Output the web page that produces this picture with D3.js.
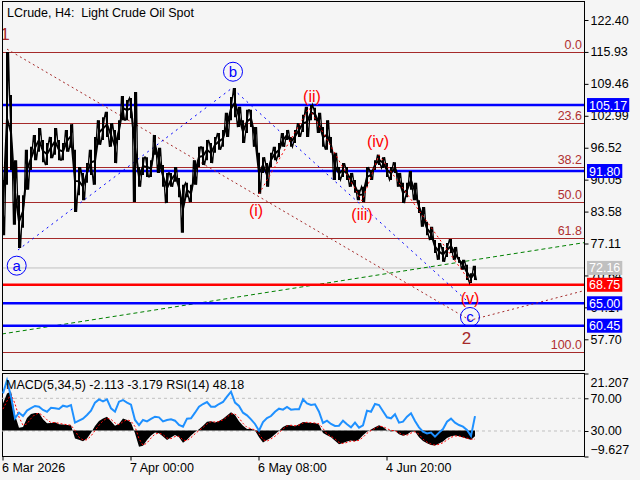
<!DOCTYPE html>
<html><head><meta charset="utf-8">
<script src="https://cdn.jsdelivr.net/npm/d3@7"></script>
<style>
body{margin:0;background:#f5f5f5}
svg{display:block}
text{font-family:"Liberation Sans",Arial,sans-serif;white-space:pre}
</style>
</head><body>
<svg id="c" width="640" height="480"></svg>
<script>
// ---------- DATA ----------
const title = "LCrude, H4:  Light Crude Oil Spot";
const macdLabel = "MACD(5,34,5) -2.113 -3.179 RSI(14) 48.18";
// price samples (every 4 H4 bars)
const highs = [90.0,115.9,107.2,94.0,86.9,86.9,96.1,96.7,99.1,100.5,
98.1,97.5,98.7,100.5,98.1,97.5,100.1,101.3,96.1,92.6,
91.4,93.4,96.1,98.7,102.1,102.7,103.8,101.5,100.1,102.1,
107.0,106.2,106.6,107.8,92.6,94.6,94.6,94.0,99.1,96.5,
93.0,91.4,91.4,92.6,90.4,89.0,89.4,89.0,94.0,96.7,
96.7,98.1,97.5,98.7,99.5,100.1,103.6,106.8,108.6,104.8,
102.1,104.2,104.2,100.7,95.5,94.6,93.4,95.5,96.7,97.5,
99.5,100.1,98.7,100.1,101.5,103.2,104.8,105.2,104.6,103.6,
100.7,102.1,98.7,95.5,92.6,93.4,92.6,91.4,90.0,88.0,
88.6,92.6,92.0,94.0,95.1,94.6,93.4,92.6,93.6,91.4,
89.4,89.4,91.8,89.4,85.9,84.5,81.5,80.5,77.8,77.2,
76.4,77.2,78.0,76.4,74.4,73.8,72.8,71.1,72.6];
const lows = [78.8,89.0,92.0,80.9,76.2,80.3,88.0,92.0,94.0,95.7,
93.6,93.0,94.4,95.1,94.0,94.0,95.7,96.5,83.5,86.9,
85.9,89.4,91.0,89.0,97.1,98.1,98.7,96.7,93.4,98.1,
102.1,102.1,102.5,85.5,88.6,91.0,90.6,90.6,95.1,91.4,
88.6,85.3,88.6,89.6,86.5,79.3,86.5,85.5,89.0,92.6,
93.0,94.0,93.4,95.5,96.1,96.7,98.7,102.1,102.7,100.7,
97.5,99.5,100.7,96.7,87.2,91.4,88.6,92.6,94.0,94.6,
96.7,98.1,96.7,97.5,98.7,99.7,98.7,102.1,102.1,99.5,
96.7,96.1,95.5,90.0,90.0,90.6,90.0,88.6,87.4,85.9,
85.5,88.6,90.0,92.0,93.0,92.4,90.6,90.0,91.4,88.6,
85.3,86.5,88.0,85.9,83.3,80.5,78.8,77.8,75.2,73.8,
73.4,74.4,75.2,73.8,73.2,71.8,69.7,69.1,69.7];
const rsi = [76,92,72,45.5,52.4,48.3,55,58,60.6,59.8,
55.7,53.6,58.5,57.7,57,61,59.8,61.8,40.2,42.6,
45.1,49.6,54.9,64.7,68.7,66.3,68.7,57.7,53.6,65.9,
67.9,64.7,62.2,43.5,37.3,43.5,41.8,44.7,47.5,46.7,
41.8,43.5,44.3,42.6,37.3,35.3,45.1,45.5,52.4,59.8,
63,65.5,59.8,59.8,63,65.5,72,78.1,64.7,60.6,
52.4,49.2,44.3,38.6,30.4,41,45.9,48.3,53.6,57.3,
56.1,59.4,56.1,56.5,56.5,68.7,63.8,61.8,62.6,53.6,
39.8,42.6,38.6,36.1,36.5,42.6,38.2,34.5,40.2,34.1,
36.9,54.9,53.6,63,61.8,54.1,46.7,45.5,50.4,40.2,
41.4,47.5,51.6,42.2,34.5,29.2,27.1,28,23.1,28,
32.4,41.4,45.1,40.2,37.3,35.3,31.2,23.9,48.18];
const macd = [10.1,13.8,14.5,5.8,1.1,1.3,4.7,6.2,6.5,6.5,
4.2,2.7,2.8,3.1,2.4,2.3,2.1,2.0,-2.9,-3.4,
-4.0,-2.9,-0.8,1.7,3.6,4.5,5.1,3.5,1.8,2.5,
4.5,3.9,3.0,-1.0,-6.0,-5.6,-3.5,-1.8,-0.7,-1.0,
-2.2,-3.5,-2.6,-1.6,-2.5,-4.5,-3.4,-1.8,-0.5,0.5,
1.8,3.3,3.5,3.0,3.6,4.4,5.6,6.8,5.8,3.5,
1.8,0.6,0.7,0,-2.5,-4.4,-3.5,-2.7,-1.4,-0.1,
1.3,2.1,2.0,1.6,2.4,3.2,3.0,2.8,2.8,2.3,
-0.9,-1.7,-2.5,-3.8,-5.1,-4.6,-4.1,-3.7,-4.0,-3.3,
-1.7,-0.4,0.4,1.2,2.0,1.3,0.1,-0.3,-0.1,-1.4,
-1.9,-1.5,-0.4,-0.3,-2.5,-3.9,-4.7,-5.4,-5.5,-4.8,
-4.1,-2.8,-2.1,-1.8,-2.1,-2.6,-3.0,-3.4,-2.113];
const signal = [8,11,13.5,10,5,2,2.5,4.5,6,6.5,
5.5,4,3,3,2.7,2.4,2.2,2.0,0,-2.5,
-3.5,-3.4,-2,0,2,3.6,4.6,4.2,2.8,2.2,
3.3,4,3.5,1.5,-3,-5.5,-4.6,-2.8,-1.3,-0.9,
-1.5,-2.8,-3,-2.2,-2.1,-3.5,-3.8,-2.6,-1.2,0,
1.1,2.5,3.3,3.2,3.3,4,5,6.2,6.2,4.7,
2.7,1.2,0.7,0.3,-1.2,-3.4,-3.9,-3.1,-2.1,-0.8,
0.6,1.7,2,1.8,2,2.8,3.1,2.9,2.8,2.5,
0.8,-1.3,-2.1,-3.1,-4.4,-4.8,-4.4,-3.9,-3.9,-3.6,
-2.5,-1,0,0.8,1.6,1.5,0.7,0.1,-0.1,-0.8,
-1.6,-1.7,-0.9,-0.4,-1.4,-3.2,-4.3,-5,-5.4,-5.1,
-4.5,-3.5,-2.5,-2,-2,-2.4,-2.8,-3.2,-3.179];
const priceTicks = [122.40,115.93,109.46,102.99,96.52,90.05,83.58,77.11,70.64,64.17,57.70];
const dateTickBars = [0,128,256,384];
const dateTickLabels = ["6 Mar 2026","7 Apr 00:00","6 May 08:00","4 Jun 20:00"];
const fibLevels = [0.0,23.6,38.2,50.0,61.8,100.0];
const fibTop = 115.93, fibBottom = 55.07;
const blueLevels = [105.17,91.80,65.00,60.45];
const redLevel = 68.75;
const lastPrice = 72.16;
// wave structure (bar index, price)
const wave12Bars = [5,468,582], wave12Prices = [116.5,61.56,67.55];
const waveABCBars = [16,230,466], waveABCPrices = [75.8,108.6,65.3];
const waveIVBars = [257,307,360,377,469], waveIVPrices = [87.15,104.57,85.73,95.05,69.12];
const trendBars = [0,582], trendPrices = [58.78,77.28];
const circleLabels = ["a","b","c"], circleBars = [14.7,231,468], circlePrices = [72.62,111.92,62.22];
const minorLabels = ["(i)","(ii)","(iii)","(iv)","(v)"], minorBars = [254,310,360,376,468], minorPrices = [83.70,106.80,82.89,97.88,65.87];
const majorLabels = ["1","2"], majorBars = [3,464.5], majorPrices = [119.56,57.97];
const rsiTicks = [70,30];
const macdTicks = [21.207,-9.627];

// ---------- LAYOUT ----------
const svg = d3.select("#c");
const L = 2, R = 584, T = 1, B = 370, LT = 373.5, LB = 456.5;
const x = d3.scaleLinear().domain([0,582]).range([L,R]);
const y = d3.scaleLinear().domain([57.70,122.40]).range([339.3,20]);
const yr = d3.scaleLinear().domain([0,100]).range([455.5,373.8]);
const ym = d3.scaleLinear().domain([-9.627,21.207]).range([456.5,373.5]);
const sampleBar = i => 1 + 4*i;
const fnt = "12.5px";

svg.append("rect").attr("width",640).attr("height",480).attr("fill","#f5f5f5");
svg.append("defs").append("clipPath").attr("id","mainclip")
  .append("rect").attr("x",L).attr("y",T).attr("width",R-L).attr("height",B-T);
svg.select("defs").append("clipPath").attr("id","lowclip")
  .append("rect").attr("x",L).attr("y",LT).attr("width",R-L).attr("height",LB-LT);

const main = svg.append("g").attr("clip-path","url(#mainclip)");

// fib lines
fibLevels.forEach(f=>{
  const p = fibTop - f/100*(fibTop-fibBottom);
  main.append("line").attr("x1",L).attr("x2",R).attr("y1",Math.round(y(p))+0.5).attr("y2",Math.round(y(p))+0.5)
    .attr("stroke","#a52a2a").attr("stroke-width",1);
  main.append("text").attr("x",R-2).attr("y",Math.round(y(p))-3).attr("text-anchor","end")
    .attr("fill","#b03030").style("font-size",fnt).text(f.toFixed(1));
});
// last price line
main.append("line").attr("x1",L).attr("x2",R).attr("y1",y(lastPrice)).attr("y2",y(lastPrice))
  .attr("stroke","#c0c0c0").attr("stroke-width",1);
// trend line green
const lineGen = d3.line().x(d=>x(d[0])).y(d=>y(d[1]));
main.append("path").attr("d",lineGen(trendBars.map((b,i)=>[b,trendPrices[i]])))
  .attr("fill","none").attr("stroke","#008000").attr("stroke-width",1).attr("stroke-dasharray","4,3");
// blue levels
blueLevels.forEach(v=>{
  main.append("line").attr("x1",L).attr("x2",R).attr("y1",y(v)).attr("y2",y(v))
    .attr("stroke","#0000ff").attr("stroke-width",2.5);
});
main.append("line").attr("x1",L).attr("x2",R).attr("y1",y(redLevel)).attr("y2",y(redLevel))
  .attr("stroke","#ff0000").attr("stroke-width",2.5);

// wave lines
main.append("path").attr("d",lineGen(wave12Bars.map((b,i)=>[b,wave12Prices[i]])))
  .attr("fill","none").attr("stroke","#a52a2a").attr("stroke-width",1).attr("stroke-dasharray","2,3");
main.append("path").attr("d",lineGen(waveABCBars.map((b,i)=>[b,waveABCPrices[i]])))
  .attr("fill","none").attr("stroke","#0000ff").attr("stroke-width",1).attr("stroke-dasharray","2,4");

// price bars
const pg = main.append("g");
highs.forEach((h,i)=>{
  pg.append("line").attr("x1",x(sampleBar(i))).attr("x2",x(sampleBar(i)))
    .attr("y1",y(h)).attr("y2",y(lows[i])).attr("stroke","#000").attr("stroke-width",2);
});
// zig-zag through each sample's high and low
const zz = [];
highs.forEach((h,i)=>{
  const xc = x(sampleBar(i));
  if (i%2===0){ zz.push([xc-1.5,y(h)]); zz.push([xc+1.5,y(lows[i])]); }
  else { zz.push([xc-1.5,y(lows[i])]); zz.push([xc+1.5,y(h)]); }
});
main.append("path").attr("d",d3.line()(zz)).attr("fill","none").attr("stroke","#000").attr("stroke-width",1.3);
main.append("path").attr("d",d3.line().x((d,i)=>x(sampleBar(i))).y((d,i)=>y((highs[i]+lows[i])/2))(highs))
  .attr("fill","none").attr("stroke","#000").attr("stroke-width",2);

main.append("path").attr("d",lineGen(waveIVBars.map((b,i)=>[b,waveIVPrices[i]])))
  .attr("fill","none").attr("stroke","#ff0000").attr("stroke-width",1).attr("stroke-dasharray","2,3");

// labels
circleLabels.forEach((t,i)=>{
  const cx = x(circleBars[i]), cy = y(circlePrices[i]);
  main.append("circle").attr("cx",cx).attr("cy",cy).attr("r",9.5).attr("fill","none").attr("stroke","#0000ff").attr("stroke-width",1);
  main.append("text").attr("x",cx).attr("y",cy+5).attr("text-anchor","middle").attr("fill","#0000ff")
    .style("font-size","15px").text(t);
});
minorLabels.forEach((t,i)=>{
  main.append("text").attr("x",x(minorBars[i])).attr("y",y(minorPrices[i])+5.5).attr("text-anchor","middle")
    .attr("fill","#ff0000").style("font-size","16px").text(t);
});
majorLabels.forEach((t,i)=>{
  main.append("text").attr("x",x(majorBars[i])).attr("y",y(majorPrices[i])+6).attr("text-anchor","middle")
    .attr("fill","#a52a2a").style("font-size","17px").text(t);
});

// title
svg.append("text").attr("x",7).attr("y",16.5).attr("fill","#000").style("font-size",fnt).text(title);

// frames
svg.append("rect").attr("x",L+0.5).attr("y",T+0.5).attr("width",R-L).attr("height",B-T).attr("fill","none").attr("stroke","#000");
svg.append("rect").attr("x",L+0.5).attr("y",LT).attr("width",R-L).attr("height",LB-LT).attr("fill","none").attr("stroke","#000");

// right axis main
const ax = svg.append("g").attr("transform",`translate(${R+0.5},0)`)
  .call(d3.axisRight(y).tickValues(priceTicks).tickSize(4).tickPadding(2).tickFormat(d3.format(".2f")));
ax.select(".domain").remove();
ax.selectAll("text").style("font-size",fnt).style("font-family","'Liberation Sans',Arial,sans-serif").attr("fill","#000");
ax.selectAll("line").attr("stroke","#000");

// level boxes
function box(v,bg,fg){
  const g = svg.append("g");
  const t = g.append("text").attr("x",589).attr("y",y(v)+4.5).attr("fill",fg).style("font-size",fnt).text(v.toFixed(2));
  const w = t.node().getComputedTextLength();
  g.insert("rect","text").attr("x",587).attr("y",y(v)-7).attr("width",w+4).attr("height",14).attr("fill",bg);
}
box(lastPrice,"#c0c0c0","#ffffff");
blueLevels.forEach(v=>box(v,"#0000ff","#ffffff"));
box(redLevel,"#ff0000","#ffffff");

// ---------- LOWER PANEL ----------
const low = svg.append("g").attr("clip-path","url(#lowclip)");
rsiTicks.forEach(v=>{
  low.append("line").attr("x1",L).attr("x2",R).attr("y1",yr(v)).attr("y2",yr(v))
    .attr("stroke","#c0c0c0").attr("stroke-dasharray","3,3");
});
low.append("path").attr("d",d3.area().x((d,i)=>x(sampleBar(i))).y0(ym(0)).y1(d=>ym(d))(macd))
  .attr("fill","#000");
low.append("path").attr("d",d3.line().x((d,i)=>x(sampleBar(i))).y(d=>ym(d))(signal))
  .attr("fill","none").attr("stroke","#ff0000").attr("stroke-width",1).attr("stroke-dasharray","2,2");
low.append("path").attr("d",d3.line().x((d,i)=>x(sampleBar(i))).y(d=>yr(d))(rsi))
  .attr("fill","none").attr("stroke","#1e90ff").attr("stroke-width",2);
svg.append("text").attr("x",6).attr("y",388.5).attr("fill","#000").style("font-size",fnt).text(macdLabel);

const ar = svg.append("g").attr("transform",`translate(${R+0.5},0)`)
  .call(d3.axisRight(yr).tickValues(rsiTicks).tickSize(4).tickPadding(2).tickFormat(d3.format(".2f")));
const am = svg.append("g").attr("transform",`translate(${R+0.5},0)`)
  .call(d3.axisRight(ym).tickValues(macdTicks).tickSize(4).tickPadding(2).tickFormat(d3.format(".3f")));
[ar,am].forEach(a=>{a.select(".domain").remove();
  a.selectAll("text").style("font-size",fnt).style("font-family","'Liberation Sans',Arial,sans-serif").attr("fill","#000");
  a.selectAll("line").attr("stroke","#000");});
am.selectAll(".tick text").attr("dy",(d)=> d>0 ? "1.05em" : "-0.25em");

// bottom axis
const ab = svg.append("g").attr("transform",`translate(0.5,${LB})`)
  .call(d3.axisBottom(x).tickValues(dateTickBars).tickSize(4).tickPadding(3).tickFormat((d,i)=>dateTickLabels[i]));
ab.select(".domain").remove();
ab.selectAll("text").attr("text-anchor","start").attr("x",-1).style("font-size",fnt)
  .style("font-family","'Liberation Sans',Arial,sans-serif").attr("fill","#000");
ab.selectAll("line").attr("stroke","#000");
</script>
</body></html>
